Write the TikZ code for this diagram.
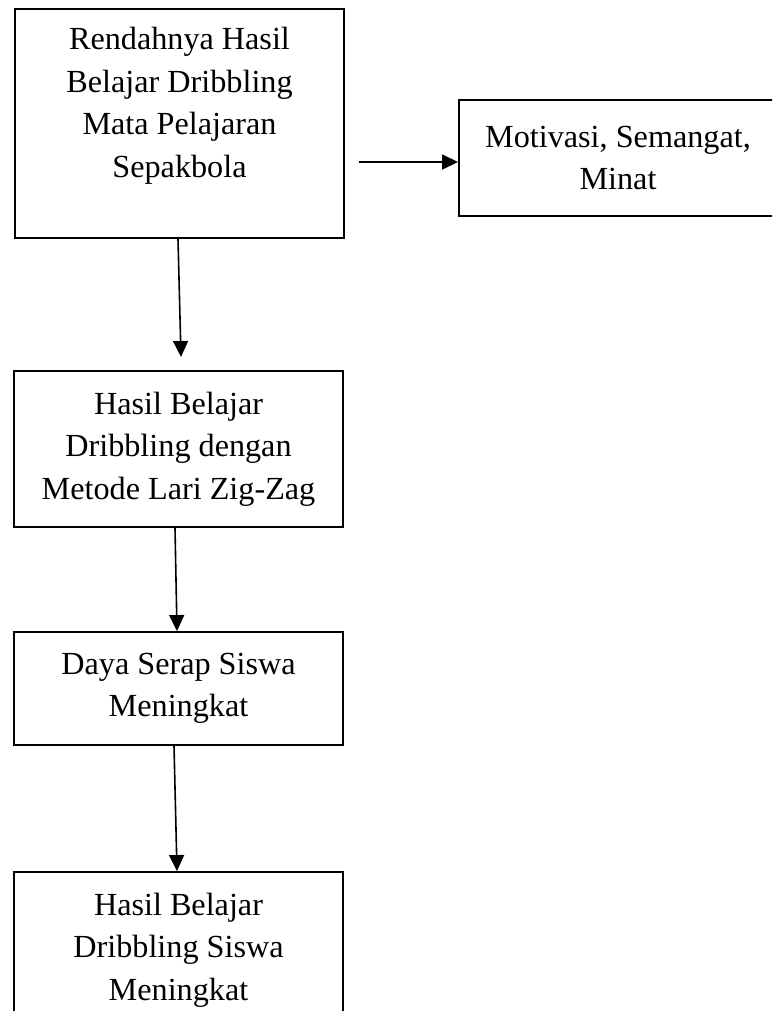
\documentclass[tikz,border=0pt]{standalone}
\usepackage{fontspec}
\setmainfont{Liberation Serif}
\usepackage{tikz}
\usetikzlibrary{arrows.meta}
\usetikzlibrary{positioning}
\tikzstyle{kotak} = [rectangle, minimum width=329pt, text centered, draw=black, line width=1.9pt, font=\fontsize{32.2}{42.5}\selectfont, align=center]
\tikzstyle{panah} = [line width=1.6pt,-{Triangle[length=16pt,width=15pt]}]

\begin{document}
\begin{tikzpicture}[node distance=240pt]
        \useasboundingbox (0,0) rectangle (772pt,-1011pt);
        \clip (0,0) rectangle (772pt,-1011pt);
        \node (rendah) [kotak, minimum height=229pt] at (179.5pt,-123.5pt) {Rendahnya Hasil\\ Belajar Dribbling\\ Mata Pelajaran\\ Sepakbola\\ \mbox{}};
        \node (motivasi) [kotak, minimum width=318pt, minimum height=116pt, right of=rendah, xshift=198.5pt, yshift=-34.5pt] {Motivasi, Semangat,\\ Minat};
        \node (hasilZigzag) [kotak, minimum height=156pt, below of=rendah, xshift=-1pt, yshift=-85.5pt] {Hasil Belajar\\ Dribbling dengan\\ Metode Lari Zig-Zag};
        \node (dayaSerap) [kotak, minimum height=113pt, below of=hasilZigzag, yshift=0.5pt] {Daya Serap Siswa\\ Meningkat};
        \node (hasilMeningkat) [kotak, minimum height=156pt, below of=dayaSerap, yshift=-21.5pt] {Hasil Belajar\\ Dribbling Siswa\\ Meningkat};

        \coordinate (ujungRendah) at ([xshift=1.5pt, yshift=-118pt]rendah.south);
        \coordinate (awalMotivasi) at ([xshift=14pt, yshift=-38.5pt]rendah.east);

        \draw [panah] ([xshift=-1.5pt]rendah.south) -- (ujungRendah);
        \draw [panah] (awalMotivasi) -- ([yshift=-4pt]motivasi.west);
        \draw [panah] ([xshift=-3.5pt]hasilZigzag.south) -- ([xshift=-1.5pt]dayaSerap.north);
        \draw [panah] ([xshift=-4.5pt]dayaSerap.south) -- ([xshift=-1.5pt]hasilMeningkat.north);
    \end{tikzpicture}
\end{document}
